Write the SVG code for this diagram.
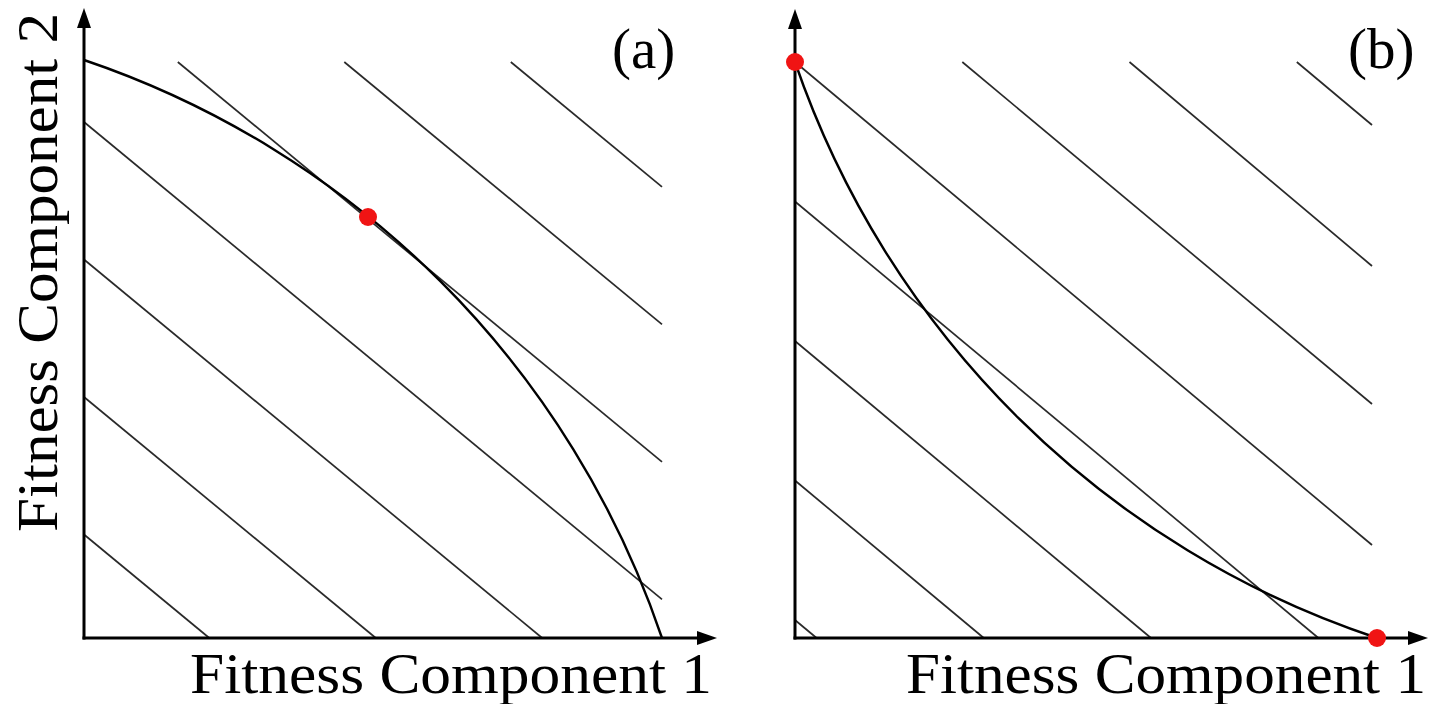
<svg xmlns="http://www.w3.org/2000/svg" width="1431" height="704" viewBox="0 0 1431 704">
<style>
.ax{stroke:#000;stroke-width:3;fill:none;marker-end:url(#arr)}
.iso{stroke:#2a2a2a;stroke-width:1.7;fill:none}
.crv{stroke:#000;stroke-width:2.4;fill:none}
.dot{fill:#f01414}
.lbl{font-family:"Liberation Serif","Times New Roman",serif;font-size:57px;fill:#000}
</style>
<defs>
<marker id="arr" markerWidth="20" markerHeight="14" refX="10" refY="7" orient="auto" markerUnits="userSpaceOnUse">
<path d="M0,0 L20,7 L0,14 z" fill="#000"/>
</marker>
</defs>
<rect width="1431" height="704" fill="#fff"/>
<g id="panel-a">
<g id="a-lines">
<line class="iso" x1="84" y1="534.5" x2="209.3" y2="638"/>
<line class="iso" x1="84" y1="397" x2="375.8" y2="638"/>
<line class="iso" x1="84" y1="259.5" x2="542.2" y2="638"/>
<line class="iso" x1="84" y1="122" x2="662" y2="599.4"/>
<line class="iso" x1="177.8" y1="62" x2="662" y2="461.9"/>
<line class="iso" x1="344.3" y1="62" x2="662" y2="324.4"/>
<line class="iso" x1="510.8" y1="62" x2="662" y2="186.9"/>
</g>
<path id="a-curve" class="crv" d="M84,60 A922,922 0 0,1 662,638"/>
<g id="a-axes">
<line class="ax" x1="84" y1="639.5" x2="84" y2="18"/>
<line class="ax" x1="82.5" y1="638" x2="707" y2="638"/>
</g>
<circle id="a-dot" class="dot" cx="368" cy="217" r="9"/>
<text id="a-tag" class="lbl" x="612" y="68">(a)</text>
<text id="a-xlabel" class="lbl" x="190" y="693" textLength="522" lengthAdjust="spacingAndGlyphs">Fitness Component 1</text>
<text id="a-ylabel" class="lbl" transform="translate(57,532) rotate(-90)" textLength="519" lengthAdjust="spacingAndGlyphs">Fitness Component 2</text>
</g>
<g id="panel-b">
<g id="b-lines">
<line class="iso" x1="795" y1="620" x2="816.6" y2="638"/>
<line class="iso" x1="795" y1="480.5" x2="983.8" y2="638"/>
<line class="iso" x1="795" y1="341" x2="1151" y2="638"/>
<line class="iso" x1="795" y1="201.5" x2="1318.4" y2="638"/>
<line class="iso" x1="795" y1="62" x2="1372" y2="545"/>
<line class="iso" x1="962.3" y1="62" x2="1372" y2="404"/>
<line class="iso" x1="1129.5" y1="62" x2="1372" y2="266"/>
<line class="iso" x1="1296.8" y1="62" x2="1372" y2="125"/>
</g>
<path id="b-curve" class="crv" d="M795,62 A922,922 0 0,0 1377,638"/>
<g id="b-axes">
<line class="ax" x1="795" y1="639.5" x2="795" y2="19"/>
<line class="ax" x1="793.5" y1="638" x2="1418" y2="638"/>
</g>
<circle id="b-dot1" class="dot" cx="795" cy="62" r="9"/>
<circle id="b-dot2" class="dot" cx="1377" cy="638" r="9"/>
<text id="b-tag" class="lbl" x="1348" y="68">(b)</text>
<text id="b-xlabel" class="lbl" x="906" y="693" textLength="520" lengthAdjust="spacingAndGlyphs">Fitness Component 1</text>
</g>
</svg>
